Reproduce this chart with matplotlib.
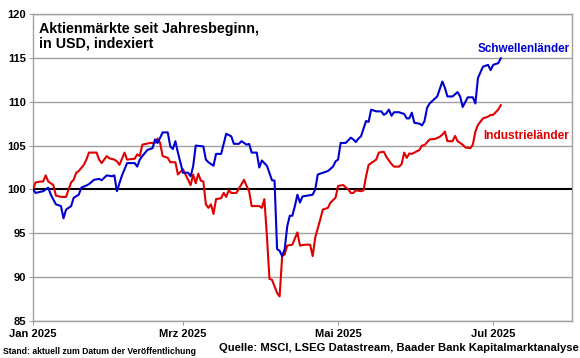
import matplotlib
matplotlib.use("Agg")
import matplotlib.pyplot as plt
import matplotlib.dates as mdates
import pandas as pd

plt.rcParams['font.family'] = ['Liberation Sans', 'DejaVu Sans']

em_dates = ["2025-01-01", "2025-01-02", "2025-01-05", "2025-01-07", "2025-01-08", "2025-01-10",
            "2025-01-12", "2025-01-13", "2025-01-14", "2025-01-16", "2025-01-17", "2025-01-19",
            "2025-01-20", "2025-01-22", "2025-01-23", "2025-01-25", "2025-01-27", "2025-01-28",
            "2025-01-30", "2025-02-01", "2025-02-02", "2025-02-03", "2025-02-05", "2025-02-06",
            "2025-02-07", "2025-02-10", "2025-02-11", "2025-02-12", "2025-02-13", "2025-02-15",
            "2025-02-17", "2025-02-18", "2025-02-19", "2025-02-21", "2025-02-23", "2025-02-24",
            "2025-02-25", "2025-02-26", "2025-02-27", "2025-03-01", "2025-03-03", "2025-03-04",
            "2025-03-05", "2025-03-06", "2025-03-09", "2025-03-10", "2025-03-11", "2025-03-13",
            "2025-03-14", "2025-03-16", "2025-03-18", "2025-03-20", "2025-03-21", "2025-03-23",
            "2025-03-24", "2025-03-26", "2025-03-27", "2025-03-28", "2025-03-30", "2025-03-31",
            "2025-04-01", "2025-04-03", "2025-04-05", "2025-04-06", "2025-04-07", "2025-04-08",
            "2025-04-09", "2025-04-10", "2025-04-11", "2025-04-12", "2025-04-13", "2025-04-14",
            "2025-04-15", "2025-04-16", "2025-04-17", "2025-04-19", "2025-04-21", "2025-04-22",
            "2025-04-23", "2025-04-25", "2025-04-27", "2025-04-29", "2025-04-30", "2025-05-01",
            "2025-05-02", "2025-05-04", "2025-05-06", "2025-05-07", "2025-05-08", "2025-05-09",
            "2025-05-10", "2025-05-12", "2025-05-13", "2025-05-14", "2025-05-16", "2025-05-18",
            "2025-05-19", "2025-05-20", "2025-05-21", "2025-05-22", "2025-05-23", "2025-05-25",
            "2025-05-27", "2025-05-28", "2025-05-29", "2025-05-30", "2025-05-31", "2025-06-02",
            "2025-06-03", "2025-06-04", "2025-06-05", "2025-06-06", "2025-06-09", "2025-06-11",
            "2025-06-12", "2025-06-13", "2025-06-15", "2025-06-17", "2025-06-18", "2025-06-19",
            "2025-06-21", "2025-06-23", "2025-06-24", "2025-06-25", "2025-06-27", "2025-06-29",
            "2025-06-30", "2025-07-01", "2025-07-03", "2025-07-04"]
em_values = [100.0, 99.6, 99.8, 100.2, 99.4, 98.3,
             98.1, 96.7, 97.7, 98.1, 99.05, 99.4,
             100.2, 100.45, 100.6, 101.1, 101.2, 101.05,
             101.6, 101.5, 101.6, 99.8, 101.6, 102.3,
             103.0, 103.0, 102.6, 103.4, 103.8, 104.5,
             104.7, 105.7, 105.3, 106.5, 106.5, 104.9,
             104.6, 105.5, 104.2, 101.9, 101.9, 101.5,
             102.65, 105.0, 104.9, 103.4, 103.1, 102.7,
             104.05, 104.05, 106.35, 106.05, 105.2, 105.2,
             105.5, 105.1, 105.2, 104.2, 104.2, 102.5,
             103.3, 102.7, 101.05, 101.0, 93.2, 93.0,
             92.4, 93.2, 95.8, 97.0, 97.0, 98.1,
             99.4, 98.5, 99.2, 99.3, 99.4, 100.0,
             101.7, 101.9, 102.1, 102.6, 103.2, 103.4,
             105.3, 105.3, 105.9, 105.7, 105.4, 105.8,
             106.05, 107.8, 107.7, 109.1, 108.9, 108.9,
             108.5, 108.7, 109.1, 108.4, 108.8, 108.8,
             108.6, 108.1, 108.1, 108.75, 107.6, 107.5,
             107.3, 107.8, 109.3, 109.8, 110.6, 112.3,
             111.6, 110.6, 110.6, 111.1, 110.6, 109.4,
             110.5, 110.5, 109.8, 112.7, 114.0, 114.2,
             113.6, 114.2, 114.4, 114.95]

dm_dates = ["2025-01-01", "2025-01-02", "2025-01-04", "2025-01-05", "2025-01-06", "2025-01-07",
            "2025-01-08", "2025-01-09", "2025-01-10", "2025-01-12", "2025-01-14", "2025-01-15",
            "2025-01-16", "2025-01-17", "2025-01-18", "2025-01-19", "2025-01-21", "2025-01-22",
            "2025-01-23", "2025-01-26", "2025-01-27", "2025-01-28", "2025-01-29", "2025-01-30",
            "2025-01-31", "2025-02-02", "2025-02-03", "2025-02-04", "2025-02-06", "2025-02-07",
            "2025-02-10", "2025-02-11", "2025-02-12", "2025-02-13", "2025-02-16", "2025-02-18",
            "2025-02-19", "2025-02-20", "2025-02-21", "2025-02-23", "2025-02-24", "2025-02-26",
            "2025-02-27", "2025-03-01", "2025-03-02", "2025-03-04", "2025-03-05", "2025-03-06",
            "2025-03-07", "2025-03-08", "2025-03-09", "2025-03-10", "2025-03-11", "2025-03-12",
            "2025-03-13", "2025-03-14", "2025-03-16", "2025-03-17", "2025-03-18", "2025-03-19",
            "2025-03-20", "2025-03-22", "2025-03-24", "2025-03-25", "2025-03-26", "2025-03-27",
            "2025-03-28", "2025-03-31", "2025-04-01", "2025-04-02", "2025-04-03", "2025-04-04",
            "2025-04-05", "2025-04-07", "2025-04-08", "2025-04-09", "2025-04-10", "2025-04-11",
            "2025-04-13", "2025-04-15", "2025-04-16", "2025-04-18", "2025-04-20", "2025-04-21",
            "2025-04-22", "2025-04-24", "2025-04-25", "2025-04-27", "2025-04-28", "2025-04-30",
            "2025-05-01", "2025-05-03", "2025-05-05", "2025-05-06", "2025-05-07", "2025-05-08",
            "2025-05-10", "2025-05-11", "2025-05-12", "2025-05-13", "2025-05-14", "2025-05-16",
            "2025-05-17", "2025-05-19", "2025-05-20", "2025-05-22", "2025-05-23", "2025-05-25",
            "2025-05-26", "2025-05-27", "2025-05-28", "2025-05-29", "2025-05-30", "2025-05-31",
            "2025-06-02", "2025-06-03", "2025-06-04", "2025-06-06", "2025-06-08", "2025-06-10",
            "2025-06-11", "2025-06-12", "2025-06-13", "2025-06-15", "2025-06-16", "2025-06-17",
            "2025-06-19", "2025-06-20", "2025-06-22", "2025-06-23", "2025-06-24", "2025-06-25",
            "2025-06-27", "2025-06-29", "2025-06-30", "2025-07-01", "2025-07-03", "2025-07-04"]
dm_values = [100.0, 100.8, 100.9, 100.9, 101.6, 100.9,
             100.7, 100.5, 99.3, 99.15, 99.15, 100.0,
             100.8, 101.1, 101.9, 102.1, 102.8, 103.4,
             104.2, 104.2, 103.4, 103.0, 103.4, 103.8,
             103.55, 103.4, 103.2, 102.8, 104.2, 103.4,
             103.5, 104.0, 103.8, 105.1, 105.3, 105.3,
             105.8, 105.3, 103.8, 103.6, 103.1, 103.1,
             101.7, 102.3, 101.7, 100.5, 101.7, 100.7,
             101.8, 101.0, 100.9, 98.3, 97.9, 98.3,
             97.2, 98.9, 99.0, 99.6, 99.15, 99.9,
             99.6, 99.6, 100.6, 101.1, 100.4, 99.8,
             98.1, 98.1, 97.9, 98.9, 94.7, 89.8,
             89.7, 88.2, 87.8, 92.4, 92.6, 93.6,
             93.7, 95.1, 93.6, 93.7, 93.7, 92.4,
             94.5, 96.6, 97.7, 97.9, 98.5, 99.05,
             100.4, 100.5, 100.0, 99.6, 99.6, 99.9,
             99.8, 99.9, 101.5, 102.8, 103.0, 103.4,
             104.2, 104.3, 103.7, 102.9, 102.6, 102.6,
             102.9, 104.2, 103.6, 104.1, 104.05, 104.2,
             104.5, 105.0, 105.05, 105.7, 105.75, 106.0,
             106.25, 106.6, 105.5, 105.5, 106.1, 105.5,
             105.1, 104.8, 104.7, 105.1, 106.6, 107.35,
             108.1, 108.3, 108.5, 108.5, 109.1, 109.6]

series_names = ["Schwellenländer", "Industrieländer"]
y_ticks = [85, 90, 95, 100, 105, 110, 115, 120]
x_tick_dates = ["2025-01-01", "2025-03-01", "2025-05-01", "2025-07-01"]
x_tick_labels = ["Jan 2025", "Mrz 2025", "Mai 2025", "Jul 2025"]
title = "Aktienmärkte seit Jahresbeginn,\nin USD, indexiert"
footer_left = "Stand: aktuell zum Datum der Veröffentlichung"
footer_right = "Quelle: MSCI, LSEG Datastream, Baader Bank Kapitalmarktanalyse"

BLUE = "#0000d0"
RED = "#e00000"
GRID = "#a0a0a0"

fig = plt.figure(figsize=(5.8, 3.58), dpi=100)
ax = fig.add_axes([33 / 580, 1 - 321 / 358, (572 - 33) / 580, (321 - 14) / 358])

em_x = pd.to_datetime(em_dates)
dm_x = pd.to_datetime(dm_dates)

for v in y_ticks:
    if v == 100:
        ax.axhline(v, color="black", lw=1.5, zorder=1)
    else:
        ax.axhline(v, color=GRID, lw=1.0, zorder=1)

ax.plot(dm_x, dm_values, color=RED, lw=1.5, zorder=3)
ax.plot(em_x, em_values, color=BLUE, lw=1.5, zorder=4)

ax.set_xlim(pd.Timestamp("2025-01-01"), pd.Timestamp("2025-08-01"))
ax.set_ylim(85, 120)
ax.set_yticks(y_ticks)
ax.set_yticklabels([str(v) for v in y_ticks], fontsize=8, fontweight="bold")
ax.set_xticks(pd.to_datetime(x_tick_dates))
ax.set_xticklabels(x_tick_labels, fontsize=8, fontweight="bold")
ax.tick_params(axis="both", length=3, width=0.8, color=GRID, pad=2)
ax.tick_params(axis="x", pad=3)
for s in ax.spines.values():
    s.set_color(GRID)
    s.set_linewidth(1.0)

ax.text(0.011, 0.975, title, transform=ax.transAxes, ha="left", va="top",
        fontsize=10.3, fontweight="bold", linespacing=1.1)

ax.text(0.995, 115.3, series_names[0], transform=ax.get_yaxis_transform(),
        ha="right", va="bottom", fontsize=8.4, fontweight="bold", color=BLUE)
ax.text(0.995, 105.4, series_names[1], transform=ax.get_yaxis_transform(),
        ha="right", va="bottom", fontsize=8.6, fontweight="bold", color=RED)

fig.text(3 / 580, 1 - 351 / 358, footer_left, ha="left", va="center",
         fontsize=6.2, fontweight="bold")
fig.text(579 / 580, 1 - 348 / 358, footer_right, ha="right", va="center",
         fontsize=8.1, fontweight="bold")

fig.savefig("out.png", dpi=100)
